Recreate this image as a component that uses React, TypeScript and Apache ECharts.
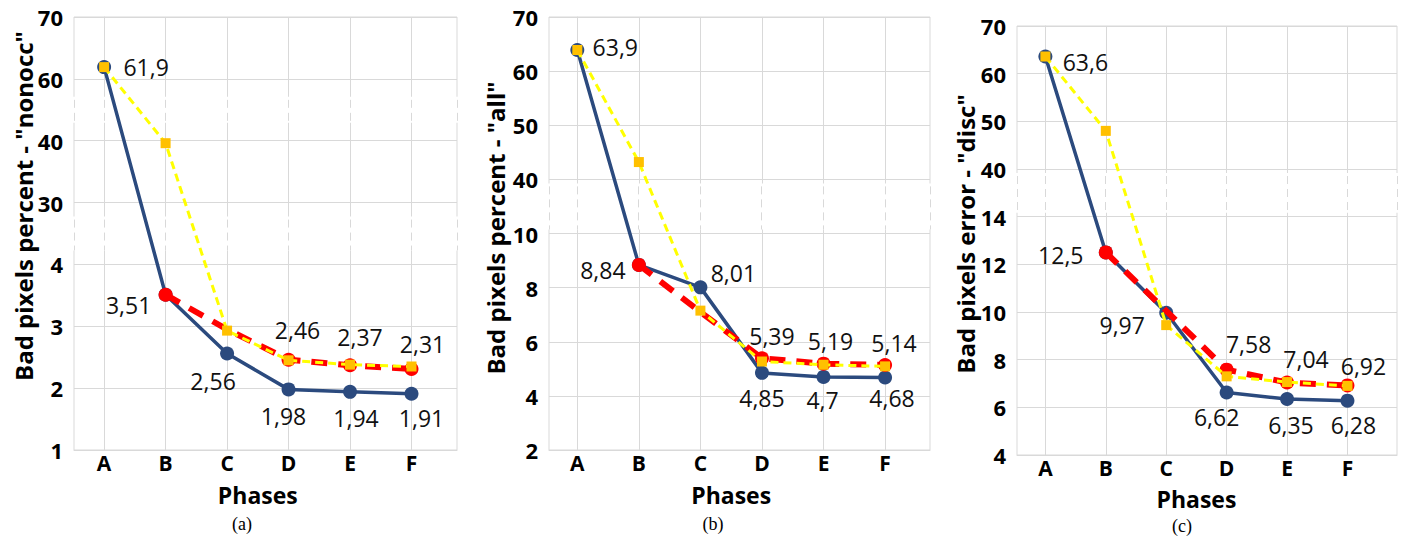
import React, { useEffect, useRef } from 'react';
import * as echarts from 'echarts';

// ---------- data ----------
const categories = ['A', 'B', 'C', 'D', 'E', 'F'];

// panel (a) "nonocc"
const ticksA = [1, 2, 3, 4, 30, 40, 60, 70];
const blueA = [61.9, 3.51, 2.56, 1.98, 1.94, 1.91];
const redA: (number | null)[] = [null, 3.51, 2.95, 2.46, 2.37, 2.31];
const yellowA = [61.9, 39.6, 2.93, 2.45, 2.38, 2.35];

// panel (b) "all"
const ticksB = [2, 4, 6, 8, 10, 40, 50, 60, 70];
const blueB = [63.9, 8.84, 8.01, 4.85, 4.7, 4.68];
const redB: (number | null)[] = [null, 8.84, 7.1, 5.39, 5.19, 5.14];
const yellowB = [63.9, 43.2, 7.15, 5.27, 5.15, 5.09];

// panel (c) "disc"
const ticksC = [4, 6, 8, 10, 12, 14, 40, 50, 60, 70];
const blueC = [63.6, 12.5, 9.97, 6.62, 6.35, 6.28];
const redC: (number | null)[] = [null, 12.5, 10.05, 7.58, 7.04, 6.92];
const yellowC = [63.6, 48.0, 9.45, 7.3, 7.06, 6.9];

const titles = ['Bad pixels percent - "nonocc"', 'Bad pixels percent - "all"', 'Bad pixels error - "disc"'];
const captions = ['(a)', '(b)', '(c)'];
const xTitle = 'Phases';

// ---------- layout / style ----------
const BLUE = '#2b4a7e';
const RED = '#ff0000';
const YELLOW_LINE = '#ffff00';
const YELLOW_MARK = '#ffc000';
const GRID = '#d9d9d9';
const FONT = '"Open Sans", "Noto Sans", sans-serif';

type Off = [number, number] | null;

const panels = [
  {
    ticks: ticksA, blue: blueA, red: redA, yellow: yellowA,
    grid: { left: 74, top: 17, width: 383, height: 433 }, xMin: -0.49, xMax: 5.74,
    breaks: [[5, 6, 18], [3, 4, 14]],
    titlePos: [23, 206], captionX: 242, phasesY: 495, captionY: 524,
    blueOff: [[42, 0], [-37, 10], [-14, 27], [-5, 27], [6, 26], [10, 24]] as Off[],
    redOff: [null, null, null, [9, -30], [10, -28], [11, -25]] as Off[],
    redNoSymbol: [2],
  },
  {
    ticks: ticksB, blue: blueB, red: redB, yellow: yellowB,
    grid: { left: 549, top: 17, width: 381, height: 433 }, xMin: -0.46, xMax: 5.73,
    breaks: [[4, 5, 4]],
    titlePos: [495, 228], captionX: 713, phasesY: 495, captionY: 524,
    blueOff: [[38, -3], [-36, 5], [33, -14], [0, 25], [-1, 23], [7, 21]] as Off[],
    redOff: [null, null, null, [10, -22], [7, -23], [9, -22]] as Off[],
    redNoSymbol: [2],
  },
  {
    ticks: ticksC, blue: blueC, red: redC, yellow: yellowC,
    grid: { left: 1017, top: 26, width: 380, height: 429 }, xMin: -0.47, xMax: 5.82,
    breaks: [[5, 6, 4]],
    titlePos: [965, 234], captionX: 1182, phasesY: 499, captionY: 526,
    blueOff: [[40, 5], [-45, 3], [-44, 12], [-10, 24], [4, 26], [6, 24]] as Off[],
    redOff: [null, null, null, [22, -26], [19, -24], [16, -19]] as Off[],
    redNoSymbol: [2],
  },
];

function toDisp(v: number, ticks: number[]): number {
  for (let i = 0; i < ticks.length - 1; i++) {
    if (v <= ticks[i + 1]) return i + (v - ticks[i]) / (ticks[i + 1] - ticks[i]);
  }
  return ticks.length - 1;
}
const fmt = (v: number) => String(v).replace('.', ',');

function buildOption() {
  const grid: any[] = [];
  const xAxis: any[] = [];
  const yAxis: any[] = [];
  const series: any[] = [];
  const idx = [0, 1, 2, 3, 4, 5];
  panels.forEach((p, i) => {
    grid.push({ ...p.grid, show: true, borderColor: GRID, borderWidth: 1, backgroundColor: '#fff' });
    xAxis.push({
      type: 'value', gridIndex: i, min: p.xMin, max: p.xMax,
      axisLine: { show: true, lineStyle: { color: GRID } },
      axisTick: { show: false, customValues: idx },
      axisLabel: {
        customValues: idx,
        formatter: (v: number) => categories[Math.round(v)] ?? '',
        fontFamily: FONT, fontWeight: 'bold', fontSize: 21, lineHeight: 18, color: '#000', margin: 4,
      },
      splitLine: { show: true, lineStyle: { color: GRID, width: 1 } },
    });
    yAxis.push({
      type: 'value', gridIndex: i, min: 0, max: p.ticks.length - 1, interval: 1,
      axisLine: { show: true, lineStyle: { color: GRID } },
      axisTick: { show: false },
      axisLabel: {
        formatter: (v: number) => String(p.ticks[Math.round(v)] ?? ''),
        fontFamily: FONT, fontWeight: 'bold', fontSize: 22, color: '#000', margin: 11,
      },
      splitLine: { show: true, lineStyle: { color: GRID, width: 1 } },
    });
    const labelBase = {
      position: 'inside', color: '#111', fontFamily: FONT, fontSize: 23, lineHeight: 22,
      textBorderWidth: 0, align: 'center', verticalAlign: 'middle',
    };
    // blue
    series.push({
      type: 'line', xAxisIndex: i, yAxisIndex: i, z: 2,
      symbol: 'circle', symbolSize: 14,
      itemStyle: { color: BLUE },
      lineStyle: { color: BLUE, width: 3.5 },
      label: { ...labelBase, formatter: (pr: any) => fmt(p.blue[pr.data.k]) },
      data: p.blue.map((v, k) => ({
        value: [k, toDisp(v, p.ticks)], k,
        label: p.blueOff[k] ? { show: true, offset: p.blueOff[k] } : { show: false },
      })),
    });
    // red
    series.push({
      type: 'line', xAxisIndex: i, yAxisIndex: i, z: 3,
      symbol: 'circle', symbolSize: 14,
      itemStyle: { color: RED },
      lineStyle: { color: RED, width: 6, type: [16, 11] },
      label: { ...labelBase, formatter: (pr: any) => fmt(p.red[pr.data.k] as number) },
      data: p.red
        .map((v, k) => (v == null ? null : {
          value: [k, toDisp(v, p.ticks)], k,
          symbol: p.redNoSymbol.includes(k) ? 'none' : 'circle',
          label: p.redOff[k] ? { show: true, offset: p.redOff[k] } : { show: false },
        }))
        .filter((d) => d != null),
    });
    // yellow
    series.push({
      type: 'line', xAxisIndex: i, yAxisIndex: i, z: 4,
      symbol: 'rect', symbolSize: 10,
      itemStyle: { color: YELLOW_MARK },
      lineStyle: { color: YELLOW_LINE, width: 3, type: [8, 5] },
      data: p.yellow.map((v, k) => [k, toDisp(v, p.ticks)]),
    });
  });
  return { animation: false, backgroundColor: '#fff', grid, xAxis, yAxis, series };
}

export default function App() {
  const ref = useRef<HTMLDivElement>(null);
  useEffect(() => {
    document.body.style.margin = '0';
    if (!ref.current) return;
    const chart = echarts.init(ref.current, null, { renderer: 'svg' });
    chart.setOption(buildOption());
    const g: any[] = [];
    panels.forEach((p, i) => {
      const px = (x: number, y: number) => chart.convertToPixel({ gridIndex: i } as any, [x, y]) as number[];
      const left = p.grid.left;
      const right = p.grid.left + p.grid.width;
      const xs = [left, ...[0, 1, 2, 3, 4, 5].map((k) => px(k, 0)[0]), right];
      p.breaks.forEach(([lo, hi, inset]) => {
        const yLo = px(0, lo)[1];
        const yHi = px(0, hi)[1];
        const y1 = yHi + inset;
        const y2 = yLo - inset;
        g.push({ type: 'rect', z: 1, silent: true, shape: { x: left - 3, y: y1, width: p.grid.width + 6, height: y2 - y1 }, style: { fill: '#fff' } });
        xs.forEach((x) => {
          const xx = Math.floor(x) + 0.5;
          g.push({ type: 'line', z: 1, silent: true, shape: { x1: xx, y1: y1 + 3, x2: xx, y2: y2 }, style: { stroke: GRID, lineWidth: 1, lineDash: [8, 5] } });
        });
      });
      g.push({
        type: 'text', x: p.titlePos[0], y: p.titlePos[1], rotation: Math.PI / 2, silent: true,
        style: { text: titles[i], fontFamily: FONT, fontWeight: 'bold', fontSize: 24, fill: '#000', align: 'center', verticalAlign: 'middle' },
      });
      g.push({
        type: 'text', x: px(2.5, 0)[0], y: p.phasesY, silent: true,
        style: { text: xTitle, fontFamily: FONT, fontWeight: 'bold', fontSize: 23, lineHeight: 22, fill: '#000', align: 'center', verticalAlign: 'middle' },
      });
      g.push({
        type: 'text', x: p.captionX, y: p.captionY, silent: true,
        style: { text: captions[i], fontFamily: '"Liberation Serif", "DejaVu Serif", serif', fontSize: 18, lineHeight: 18, fill: '#000', align: 'center', verticalAlign: 'middle' },
      });
    });
    chart.setOption({ graphic: g });
    return () => chart.dispose();
  }, []);
  return <div ref={ref} style={{ width: 1405, height: 538 }} />;
}
